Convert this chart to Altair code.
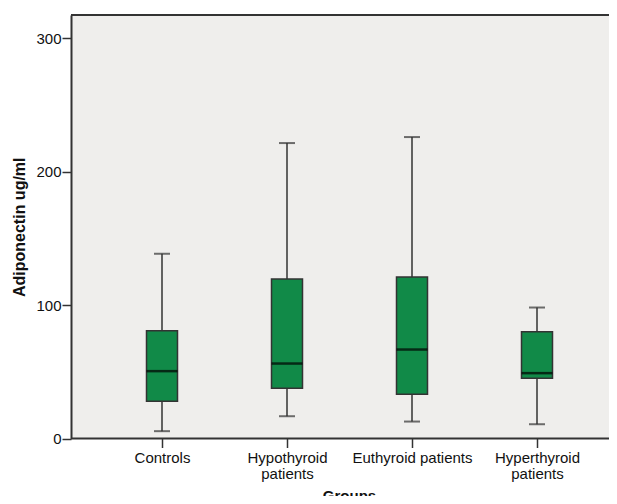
import altair as alt
import pandas as pd

groups = ["Controls", "Hypothyroid patients", "Euthyroid patients", "Hyperthyroid patients"]
whisker_low = [5.5, 16.7, 12.7, 10.7]
q1 = [28.0, 37.7, 33.2, 45.2]
median = [50.5, 56.2, 66.7, 49.0]
q3 = [80.7, 119.5, 121.0, 80.0]
whisker_high = [138.5, 221.5, 226.0, 98.2]

df = pd.DataFrame({
    "group": groups, "low": whisker_low, "q1": q1,
    "median": median, "q3": q3, "high": whisker_high,
})

W, H = 538, 423.5
DARK = "#333333"
FONT = "Liberation Sans"

xenc = alt.X(
    "group:N", sort=groups, title="Groups",
    scale=alt.Scale(type="point", range=[91, 466], padding=0),
    axis=alt.Axis(
        labelAngle=0, labelFont=FONT, labelFontSize=15, labelColor="#111",
        labelExpr="datum.label == 'Euthyroid patients' ? datum.label : split(datum.label, ' ')",
        labelLineHeight=16, labelPadding=3, tickSize=9, tickWidth=1.5, tickColor=DARK,
        domain=False, titleFont=FONT, titleFontSize=15,
        titleFontWeight="bold", titleColor="#111", titleX=278, titleY=50,
        titleBaseline="top", titleAlign="center", grid=False,
    ),
)
yscale = alt.Scale(domain=[0, 317.5], nice=False, zero=True)
yaxis = alt.Axis(
    values=[0, 100, 200, 300], labelFont=FONT, labelFontSize=15, labelColor="#111",
    labelPadding=1, tickSize=9, tickWidth=1.5, tickColor=DARK, domainColor=DARK,
    domainWidth=2, grid=False, title="Adiponectin ug/ml", titleFont=FONT,
    titleFontSize=16, titleFontWeight="bold", titleColor="#111", titlePadding=8,
)

base = alt.Chart(df)

whisk = base.mark_rule(color=DARK, strokeWidth=1.5).encode(
    x=xenc, y=alt.Y("low:Q", scale=yscale, axis=yaxis), y2="high:Q"
)
cap_lo = base.mark_tick(color=DARK, size=16, thickness=2).encode(x=xenc, y=alt.Y("low:Q", scale=yscale))
cap_hi = base.mark_tick(color=DARK, size=16, thickness=2).encode(x=xenc, y=alt.Y("high:Q", scale=yscale))
box = base.mark_bar(size=31, color="#118A48", stroke=DARK, strokeWidth=1.5).encode(
    x=xenc, y=alt.Y("q1:Q", scale=yscale), y2="q3:Q"
)
med = base.mark_tick(color="#000000", size=31, thickness=2.5).encode(x=xenc, y=alt.Y("median:Q", scale=yscale))

frame = pd.DataFrame({"a": [0]})
top_border = alt.Chart(frame).mark_rule(color=DARK, strokeWidth=2).encode(
    x=alt.value(0), x2=alt.value(W), y=alt.value(0)
)
bottom_border = alt.Chart(frame).mark_rule(color=DARK, strokeWidth=2).encode(
    x=alt.value(0), x2=alt.value(W), y=alt.value(H)
)

chart = alt.layer(whisk, cap_lo, cap_hi, box, med, top_border, bottom_border).properties(
    width=W, height=H,
    autosize=alt.AutoSizeParams(type="none"),
    padding={"left": 63, "top": 7, "right": 0, "bottom": 57},
    background="white",
).configure_view(fill="#EFEEEC", stroke=None)

chart.save("out.html", embed_options={"renderer": "svg", "actions": False})
